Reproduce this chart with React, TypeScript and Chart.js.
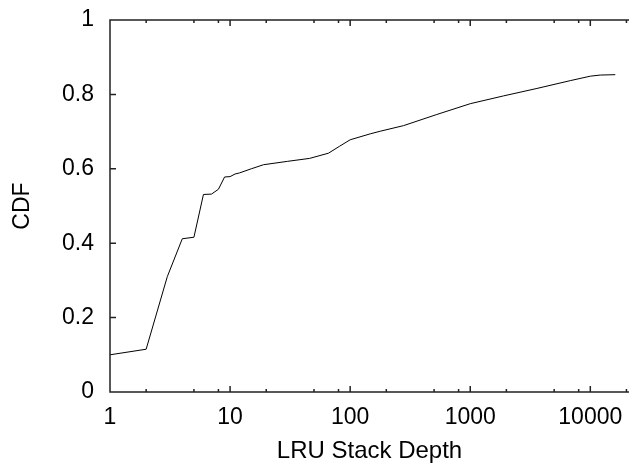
import React, { useEffect, useRef } from "react";
import { Chart, registerables } from "chart.js";

Chart.register(...registerables);

// LRU stack depth (x) vs cumulative fraction (y)
const depths = [1, 2, 3, 4, 5, 6, 7, 8, 9, 10, 11, 12, 15, 19, 30, 46, 66, 82, 100, 147, 178, 278, 527, 1000, 1896, 3594, 6813, 10000, 12100, 16150];
const cdfValues = [0.1, 0.115, 0.31, 0.412, 0.416, 0.531, 0.532, 0.545, 0.578, 0.579, 0.586, 0.589, 0.6, 0.611, 0.62, 0.628, 0.642, 0.661, 0.678, 0.694, 0.701, 0.716, 0.746, 0.775, 0.796, 0.816, 0.837, 0.849, 0.852, 0.853];

const xTickValues = [1, 10, 100, 1000, 10000];
const xMinorMultipliers = [2, 5, 8];
const yTickValues = [0, 0.2, 0.4, 0.6, 0.8, 1];
const yTickLabels = ["0", "0.2", "0.4", "0.6", "0.8", "1"];
const xTitle = "LRU Stack Depth";
const yTitle = "CDF";

const FONT = "'Liberation Sans', Arial, Helvetica, sans-serif";

const framePlugin = {
  id: "gnuplotFrame",
  afterDatasetsDraw(chart: any) {
    const { ctx, chartArea } = chart;
    const { left, right, top, bottom } = chartArea;
    const xs = chart.scales.x;
    const ys = chart.scales.y;
    ctx.save();
    ctx.strokeStyle = "#222";
    ctx.lineWidth = 1.5;
    ctx.beginPath();
    // frame: left, top, bottom (right edge lies outside the picture)
    ctx.moveTo(right + 2, top);
    ctx.lineTo(left, top);
    ctx.lineTo(left, bottom);
    ctx.lineTo(right + 2, bottom);
    // major x ticks
    for (const v of xTickValues) {
      const px = xs.getPixelForValue(v);
      ctx.moveTo(px, bottom);
      ctx.lineTo(px, bottom - 6);
      ctx.moveTo(px, top);
      ctx.lineTo(px, top + 6);
    }
    // minor x ticks
    for (const d of xTickValues) {
      for (const m of xMinorMultipliers) {
        const px = xs.getPixelForValue(d * m);
        if (px > right + 0.5) continue;
        ctx.moveTo(px, bottom);
        ctx.lineTo(px, bottom - 3);
        ctx.moveTo(px, top);
        ctx.lineTo(px, top + 3);
      }
    }
    // y ticks
    for (const v of yTickValues) {
      const py = ys.getPixelForValue(v);
      ctx.moveTo(left, py);
      ctx.lineTo(left + 6, py);
    }
    ctx.stroke();
    ctx.restore();
  },
};

export default function App() {
  const canvasRef = useRef<HTMLCanvasElement | null>(null);

  useEffect(() => {
    const canvas = canvasRef.current;
    if (!canvas) return;
    Chart.defaults.font.family = FONT;
    Chart.defaults.color = "#000";
    const chart = new Chart(canvas, {
      type: "line",
      data: {
        datasets: [
          {
            data: depths.map((d, i) => ({ x: d, y: cdfValues[i] })),
            borderColor: "#000",
            borderWidth: 1,
            pointRadius: 0,
            tension: 0,
            fill: false,
          },
        ],
      },
      options: {
        responsive: false,
        animation: false,
        devicePixelRatio: 1,
        layout: { padding: { top: 20, left: 0, right: 0, bottom: 0 } },
        plugins: { legend: { display: false }, tooltip: { enabled: false } },
        scales: {
          x: {
            type: "logarithmic",
            min: 1,
            max: 21000,
            grid: { display: false, drawTicks: false },
            border: { display: false },
            afterBuildTicks: (scale: any) => {
              scale.ticks = xTickValues.map((v) => ({ value: v }));
            },
            afterFit: (scale: any) => {
              scale.height = 76;
              scale.paddingLeft = 0;
              scale.paddingRight = 0;
            },
            ticks: {
              autoSkip: false,
              maxRotation: 0,
              padding: 12,
              font: { size: 23, family: FONT },
              color: "#000",
              callback: (v: any) => String(v),
            },
            title: {
              display: true,
              text: xTitle,
              font: { size: 24, family: FONT },
              color: "#000",
              padding: { top: 0, bottom: 2.6 },
            },
          },
          y: {
            type: "linear",
            min: 0,
            max: 1,
            grid: { display: false, drawTicks: false },
            border: { display: false },
            afterBuildTicks: (scale: any) => {
              scale.ticks = yTickValues.map((v) => ({ value: v }));
            },
            afterFit: (scale: any) => {
              scale.width = 110;
              scale.paddingTop = 0;
              scale.paddingBottom = 0;
            },
            ticks: {
              autoSkip: false,
              padding: 16,
              font: { size: 23, family: FONT },
              color: "#000",
              callback: (v: any) => {
                const i = yTickValues.findIndex((t) => Math.abs(t - Number(v)) < 1e-9);
                return i >= 0 ? yTickLabels[i] : "";
              },
            },
            title: {
              display: true,
              text: yTitle,
              font: { size: 23, family: FONT },
              color: "#000",
              padding: { top: 9, bottom: 0 },
            },
          },
        },
      },
      plugins: [framePlugin],
    } as any);
    return () => chart.destroy();
  }, []);

  return (
    <div
      style={{
        position: "fixed",
        left: 0,
        top: 0,
        width: 629,
        height: 468,
        overflow: "hidden",
        background: "#fff",
      }}
    >
      <canvas ref={canvasRef} width={629} height={468} style={{ display: "block" }} />
    </div>
  );
}
